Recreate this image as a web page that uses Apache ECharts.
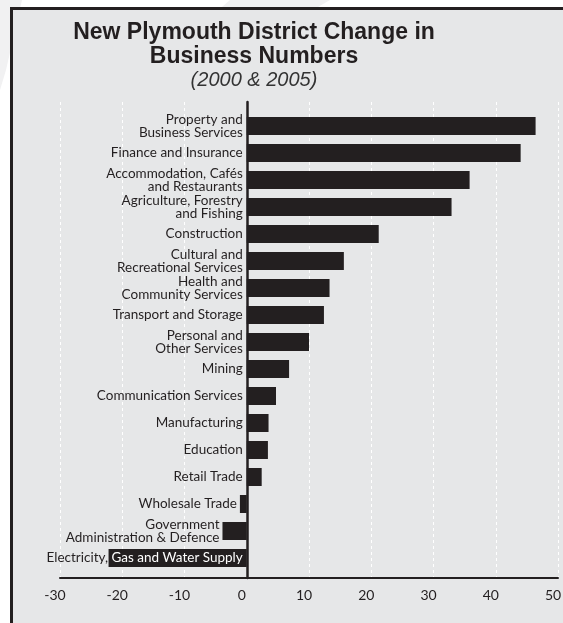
<!DOCTYPE html>
<html>
<head>
<meta charset="utf-8">
<title>New Plymouth District Change in Business Numbers</title>
<script src="https://cdn.jsdelivr.net/npm/echarts@6/dist/echarts.min.js"></script>
<style>
  html, body { margin: 0; padding: 0; background: #ffffff; }
  #chart { width: 563px; height: 623px; }
</style>
</head>
<body>
<div id="chart"></div>
<script>
// Industry groups, top to bottom
const industries = [
  'Property and\nBusiness Services',
  'Finance and Insurance',
  'Accommodation, Cafés\nand Restaurants',
  'Agriculture, Forestry\nand Fishing',
  'Construction',
  'Cultural and\nRecreational Services',
  'Health and\nCommunity Services',
  'Transport and Storage',
  'Personal and\nOther Services',
  'Mining',
  'Communication Services',
  'Manufacturing',
  'Education',
  'Retail Trade',
  'Wholesale Trade',
  'Government\nAdministration & Defence',
  'Electricity, Gas and Water Supply'
];

// Change in business numbers, 2000 to 2005 (%)
const changeValues = [46.4, 44.0, 35.8, 32.9, 21.2, 15.6, 13.3, 12.4, 10.0, 6.8, 4.7, 3.5, 3.4, 2.4, -1.1, -3.9, -22.2];

// Value axis range and tick step
const axisMin = -30;
const axisMax = 50;
const axisStep = 10;

const ink = '#231f20';
const panel = '#e6e7e8';
const labelFont = 'Lato, "Open Sans", sans-serif';
const labelSize = 13.5;

const gridLeft = 60;
const gridRight = 5;
const plotWidth = 563 - gridLeft - gridRight;
const pxPerUnit = plotWidth / (axisMax - axisMin);
// category labels end just left of the zero line
const zeroX = gridLeft + pxPerUnit * (0 - axisMin);

// The long negative bar keeps its label in place (part of it sits on the bar in white);
// short negative bars push their label out to the left of the bar.
const overlapName = 'Electricity, Gas and Water Supply';
const categoryItems = industries.map(function (name, i) {
  const v = changeValues[i];
  if (v < 0 && name !== overlapName) {
    return { value: name, textStyle: { padding: [0, Math.max(0, -v * pxPerUnit - 1), 0, 0] } };
  }
  return name;
});

const chart = echarts.init(document.getElementById('chart'), null, { renderer: 'canvas' });

chart.setOption({
  backgroundColor: '#ffffff',
  animation: false,
  graphic: [
    // faint background shapes in the page margin
    { type: 'polygon', z: -20, shape: { points: [[0, 0], [22, 0], [6, 70], [0, 90]] }, style: { fill: '#f1f1f2' } },
    { type: 'polygon', z: -20, shape: { points: [[230, 0], [330, 0], [318, 7], [222, 7]] }, style: { fill: '#f1f1f2' } },
    // framed panel
    { type: 'rect', z: -10, shape: { x: 10, y: 7, width: 553, height: 616 }, style: { fill: ink } },
    { type: 'rect', z: -9, shape: { x: 13, y: 10, width: 550, height: 613 }, style: { fill: panel } }
  ],
  title: {
    text: 'New Plymouth District Change in\nBusiness Numbers',
    subtext: '(2000 & 2005)',
    left: 254,
    top: 20,
    textAlign: 'center',
    itemGap: 0,
    padding: 0,
    textStyle: {
      fontFamily: '"Liberation Sans", Arial, sans-serif',
      fontWeight: 'bold',
      fontSize: 23,
      lineHeight: 24.5,
      color: ink
    },
    subtextStyle: {
      fontFamily: '"Liberation Sans", Arial, sans-serif',
      fontStyle: 'italic',
      fontSize: 20,
      lineHeight: 22,
      color: '#333333'
    }
  },
  grid: [
    { left: gridLeft, right: gridRight, top: 112.5, height: 459, outerBoundsMode: 'none', containLabel: false },
    { left: gridLeft, right: gridRight, top: 102, bottom: 45, outerBoundsMode: 'none', containLabel: false }
  ],
  xAxis: [
    {
      gridIndex: 0, type: 'value', min: axisMin, max: axisMax, interval: axisStep,
      show: false
    },
    {
      gridIndex: 1, type: 'value', min: axisMin, max: axisMax, interval: axisStep,
      axisLine: { show: true, lineStyle: { color: ink, width: 2 } },
      axisTick: { show: false },
      axisLabel: {
        margin: 10,
        padding: [0, 10, 0, 0],
        fontFamily: labelFont,
        fontSize: 14,
        color: ink
      },
      splitLine: { show: true, lineStyle: { color: '#ffffff', width: 1, type: [3, 3] } }
    }
  ],
  yAxis: [
    {
      gridIndex: 0, type: 'category', data: categoryItems, inverse: true, z: 10,
      axisLine: { show: false },
      axisTick: { show: false },
      splitLine: { show: false },
      axisLabel: {
        margin: gridLeft - (zeroX - 4),
        fontFamily: labelFont,
        fontSize: labelSize,
        lineHeight: 13.5,
        color: ink,
        align: 'right',
        formatter: function (name) {
          if (name === overlapName) {
            return '{k|Electricity,}{w|' + name.slice('Electricity,'.length) + '}';
          }
          return name;
        },
        rich: {
          k: { color: ink, fontFamily: labelFont, fontSize: labelSize },
          w: { color: '#ffffff', fontFamily: labelFont, fontSize: labelSize }
        }
      }
    },
    {
      gridIndex: 1, type: 'value', min: 0, max: 1, z: 5,
      axisLine: { show: true, onZero: true, lineStyle: { color: ink, width: 2.5 } },
      axisTick: { show: false },
      axisLabel: { show: false },
      splitLine: { show: false }
    }
  ],
  series: [
    {
      type: 'bar',
      xAxisIndex: 0,
      yAxisIndex: 0,
      data: changeValues,
      barWidth: 18,
      itemStyle: { color: ink },
      z: 3
    }
  ]
});
</script>
</body>
</html>
